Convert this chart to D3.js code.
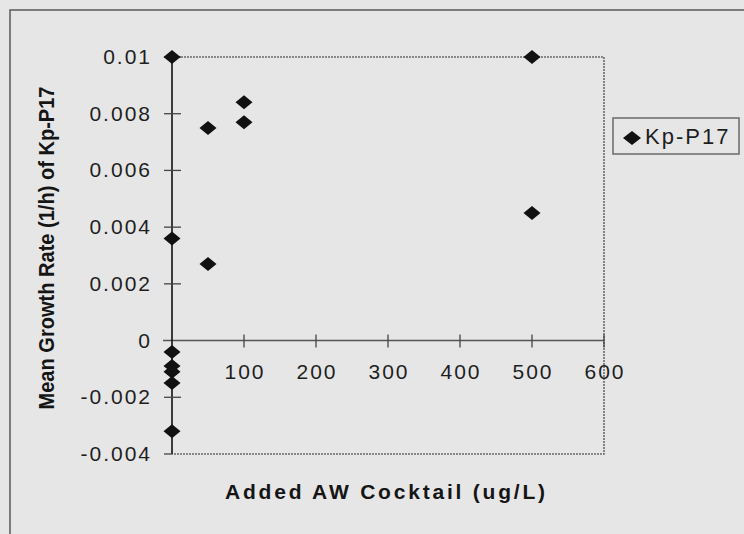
<!DOCTYPE html>
<html>
<head>
<meta charset="utf-8">
<script src="https://cdn.jsdelivr.net/npm/d3@7"></script>
<style>
  html, body { margin: 0; padding: 0; background: #e6e6e6; }
  svg { display: block; font-family: "Liberation Sans", Arial, Helvetica, sans-serif; }
</style>
</head>
<body>
<svg id="chart" width="744" height="534"></svg>
<script>
// data
var doseValues   = [0, 0, 0, 0, 0, 0, 0, 50, 50, 100, 100, 500, 500];
var growthValues = [0.01, 0.0036, -0.0004, -0.0009, -0.0011, -0.0015, -0.0032,
                    0.0075, 0.0027, 0.0084, 0.0077, 0.01, 0.0045];
var xTicks = [100, 200, 300, 400, 500, 600];
var yTicks = [-0.004, -0.002, 0, 0.002, 0.004, 0.006, 0.008, 0.01];
var seriesName = 'Kp-P17';

var svg = d3.select('#chart');
var plot = { left: 172, right: 604, top: 57, bottom: 454 };

var x = d3.scaleLinear().domain([0, 600]).range([plot.left, plot.right]);
var y = d3.scaleLinear().domain([-0.004, 0.01]).range([plot.bottom, plot.top]);

// page background + outer frame (runs off the page at right / bottom)
svg.append('rect').attr('width', 744).attr('height', 534).attr('fill', '#e6e6e6');
svg.append('rect').attr('x', 10).attr('y', 10).attr('width', 760).attr('height', 560)
  .attr('fill', 'none').attr('stroke', '#5a5a5a').attr('stroke-width', 1.5);

// plot area border (dotted grey)
svg.append('path')
  .attr('d', 'M' + plot.left + ',' + plot.top + 'H' + plot.right + 'V' + plot.bottom + 'H' + plot.left)
  .attr('fill', 'none').attr('stroke', '#6a6a6a').attr('stroke-width', 1.6)
  .attr('stroke-dasharray', '2,1');

// x axis on y = 0, ticks crossing the line
var xAxis = svg.append('g').attr('transform', 'translate(0,' + y(0) + ')');
xAxis.append('line').attr('x1', plot.left - 9).attr('x2', plot.right)
  .attr('stroke', '#555').attr('stroke-width', 1.5);
xAxis.selectAll('line.tick').data(xTicks).join('line').attr('class', 'tick')
  .attr('x1', d => x(d)).attr('x2', d => x(d)).attr('y1', -6).attr('y2', 7)
  .attr('stroke', '#444').attr('stroke-width', 1.3);
xAxis.selectAll('text').data(xTicks).join('text')
  .attr('x', d => x(d) + 1).attr('y', 38)
  .attr('text-anchor', 'middle').attr('font-size', 21).attr('letter-spacing', 2)
  .attr('fill', '#1e1e1e').text(d => d);

// y axis at x = 0
var yAxis = svg.append('g').attr('transform', 'translate(' + plot.left + ',0)');
yAxis.append('line').attr('y1', plot.top).attr('y2', plot.bottom)
  .attr('stroke', '#111').attr('stroke-width', 1.6);
yAxis.selectAll('line.tick').data(yTicks).join('line').attr('class', 'tick')
  .attr('y1', d => y(d)).attr('y2', d => y(d))
  .attr('x1', d => d === 0 ? 0 : -8).attr('x2', d => (d === 0 || d === -0.004) ? 0 : 9)
  .attr('stroke', '#444').attr('stroke-width', 1.3);
yAxis.selectAll('text').data(yTicks).join('text')
  .attr('x', -20).attr('y', d => y(d) + 7)
  .attr('text-anchor', 'end').attr('font-size', 21).attr('letter-spacing', 2)
  .attr('fill', '#1e1e1e').text(d => String(+d.toFixed(3)));

// axis titles
svg.append('text').attr('x', 385).attr('y', 499)
  .attr('text-anchor', 'middle').attr('font-size', 21).attr('font-weight', 'bold')
  .attr('textLength', 320).attr('lengthAdjust', 'spacing')
  .attr('fill', '#151515').text('Added AW Cocktail (ug/L)');
svg.append('text').attr('transform', 'translate(54,248) rotate(-90)')
  .attr('text-anchor', 'middle').attr('font-size', 22).attr('font-weight', 'bold')
  .attr('textLength', 323).attr('lengthAdjust', 'spacingAndGlyphs')
  .attr('fill', '#151515').text('Mean Growth Rate (1/h) of Kp-P17');

// diamond marker
function diamond(w, h) {
  return 'M0,' + (-h / 2) + 'L' + (w / 2) + ',0L0,' + (h / 2) + 'L' + (-w / 2) + ',0Z';
}

svg.append('g').selectAll('path').data(doseValues).join('path')
  .attr('d', diamond(17, 14))
  .attr('transform', (d, i) => 'translate(' + x(d) + ',' + y(growthValues[i]) + ')')
  .attr('fill', '#111');

// legend
var legend = svg.append('g').attr('transform', 'translate(613,118)');
legend.append('rect').attr('width', 126).attr('height', 36)
  .attr('fill', 'none').attr('stroke', '#6a6a6a').attr('stroke-width', 1.5);
legend.append('path').attr('d', diamond(18, 14)).attr('transform', 'translate(19,20)')
  .attr('fill', '#111');
legend.append('text').attr('x', 32).attr('y', 26).attr('font-size', 22)
  .attr('letter-spacing', 2).attr('fill', '#1e1e1e').text(seriesName);
</script>
</body>
</html>
